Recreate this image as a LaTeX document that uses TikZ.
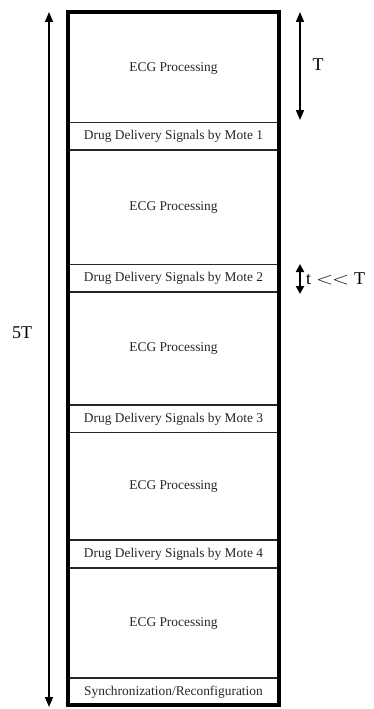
\documentclass[tikz,border=0pt]{standalone}
\usepackage{fontspec}
\setmainfont{Liberation Serif}
\usetikzlibrary{arrows.meta}
\begin{document}
\begin{tikzpicture}[x=1pt,y=-1pt,
  lbl/.style={font=\fontsize{13.4}{15}\selectfont, text=black!85, inner sep=0pt},
  big/.style={font=\fontsize{18}{20}\selectfont, inner sep=0pt},
  sep/.style={line width=1.5pt, draw=black!85},
  frame/.style={line width=4pt},
  dim/.style={line width=1.5pt, {Triangle[length=10pt,width=8pt]}-{Triangle[length=10pt,width=8pt]}}]
\useasboundingbox (0,0) rectangle (373,709);
% separators
\foreach \y in {122.5,150,264.5,292,405,432.5,540,568,678}
  \draw[sep] (68,\y) -- (279,\y);
% frame
\draw[frame] (68,12) rectangle (279,705);
% labels
\node[lbl] (ecg1) at (173.5,69) {ECG Processing};
\node[lbl] (d1) at (173.5,136.5) {Drug Delivery Signals by Mote 1};
\node[lbl] (ecg2) at (173.5,208) {ECG Processing};
\node[lbl] (d2) at (173.5,278.5) {Drug Delivery Signals by Mote 2};
\node[lbl] (ecg3) at (173.5,349) {ECG Processing};
\node[lbl] (d3) at (173.5,419) {Drug Delivery Signals by Mote 3};
\node[lbl] (ecg4) at (173.5,487) {ECG Processing};
\node[lbl] (d4) at (173.5,554.5) {Drug Delivery Signals by Mote 4};
\node[lbl] (ecg5) at (173.5,624) {ECG Processing};
\node[lbl] (sync) at (173.5,692) {Synchronization/Reconfiguration};
% dimension arrows
\coordinate (lt) at (49,12);
\coordinate (lb) at (49,707);
\draw[dim] (lt) -- (lb);
\node[big] (fiveT) at (22,333) {5T};
\coordinate (rt) at (300,12);
\coordinate (rb) at (300,120);
\draw[dim] (rt) -- (rb);
\node[big] (T) at (318,65) {T};
\coordinate (st) at (300,264);
\coordinate (sb) at (300,294);
\draw[line width=2pt, {Triangle[length=8pt,width=8pt]}-{Triangle[length=8pt,width=8pt]}] (st) -- (sb);
\node[big, anchor=west] (tT) at (306,279) {t\hspace{5pt}\scalebox{1.3}[1]{$<\mkern-1mu<$}\hspace{5pt}T};
\end{tikzpicture}
\end{document}
